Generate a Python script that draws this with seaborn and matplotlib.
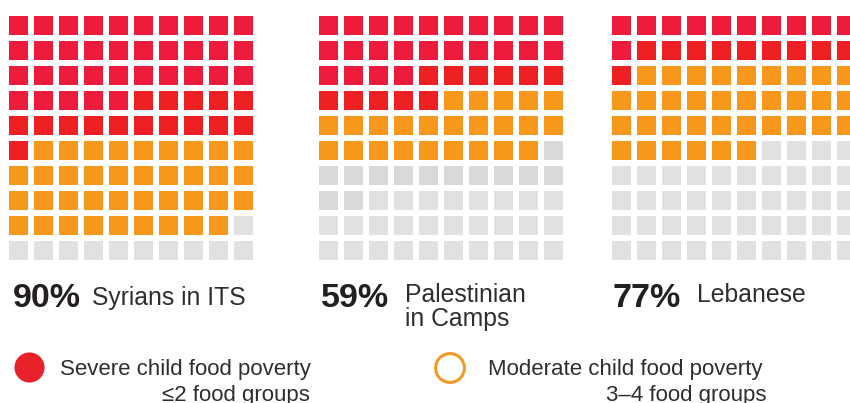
import numpy as np
import matplotlib
matplotlib.use("Agg")
import matplotlib.pyplot as plt
from matplotlib.colors import ListedColormap
import seaborn as sns

# waffle categories, filled row by row from the top left
categories = ["severe_a", "severe_b", "moderate", "none_dark", "none"]
cat_colors = ["#ED1C3C", "#EE2024", "#F7981D", "#DAD9D8", "#E0E1E3"]

groups = ["Syrians in ITS", "Palestinian\nin Camps", "Lebanese"]
pct_labels = ["90%", "59%", "77%"]
syrians_counts = [35, 16, 38, 0, 11]
palestinian_counts = [24, 11, 24, 13, 28]
lebanese_counts = [11, 10, 35, 0, 44]

legend_labels = ["Severe child food poverty\n≤2 food groups",
                 "Moderate child food poverty\n3–4 food groups"]

W, H = 850, 403
TEXT = "#2E2E2E"

sns.set_theme(style="white")
plt.rcParams['font.family'] = ['Liberation Sans', 'DejaVu Sans']


def waffle_grid(counts):
    codes = np.repeat(np.arange(len(categories)), counts)
    return codes.reshape(10, 10)


def px_axes(fig, left, top, w, h):
    return fig.add_axes([left / W, 1 - (top + h) / H, w / W, h / H])


fig = plt.figure(figsize=(W / 100, H / 100), dpi=100)
cmap = ListedColormap(cat_colors)

grid_lefts = [6, 316, 609]
for left, counts in zip(grid_lefts, [syrians_counts, palestinian_counts, lebanese_counts]):
    ax = px_axes(fig, left, 13, 250, 250)
    sns.heatmap(waffle_grid(counts), cmap=cmap, vmin=-0.5, vmax=len(categories) - 0.5,
                linewidths=2.9, linecolor="white", cbar=False, square=False,
                xticklabels=False, yticklabels=False, ax=ax)
    ax.set_axis_off()

# overlay in pixel coordinates for labels and legend
ov = px_axes(fig, 0, 0, W, H)
ov.set_xlim(0, W)
ov.set_ylim(H, 0)
ov.set_axis_off()
ov.patch.set_alpha(0)

num_x = [13, 321, 613]
lab_x = [92, 405, 697]
lab_y = [305, 302, 302]
for i in range(3):
    ov.text(num_x[i], 307, pct_labels[i], fontsize=24.5, fontweight="bold",
            color="#231F20", va="baseline", ha="left")
    for j, line in enumerate(groups[i].split("\n")):
        ov.text(lab_x[i], lab_y[i] + 24 * j, line, fontsize=17.8, color=TEXT,
                va="baseline", ha="left")

# legend
ov.scatter([29], [367], s=470, color="#E8212A", linewidths=0)
ov.scatter([450], [368], s=430, facecolors="none", edgecolors="#F39A26", linewidths=2.2)
for lx, rx, lab in [(60, 310, legend_labels[0]), (488, 767, legend_labels[1])]:
    first, second = lab.split("\n")
    ov.text(lx, 375, first, fontsize=16, color=TEXT, va="baseline", ha="left")
    ov.text(rx, 401, second, fontsize=16, color=TEXT, va="baseline", ha="right")

fig.savefig("out.png", dpi=100)
